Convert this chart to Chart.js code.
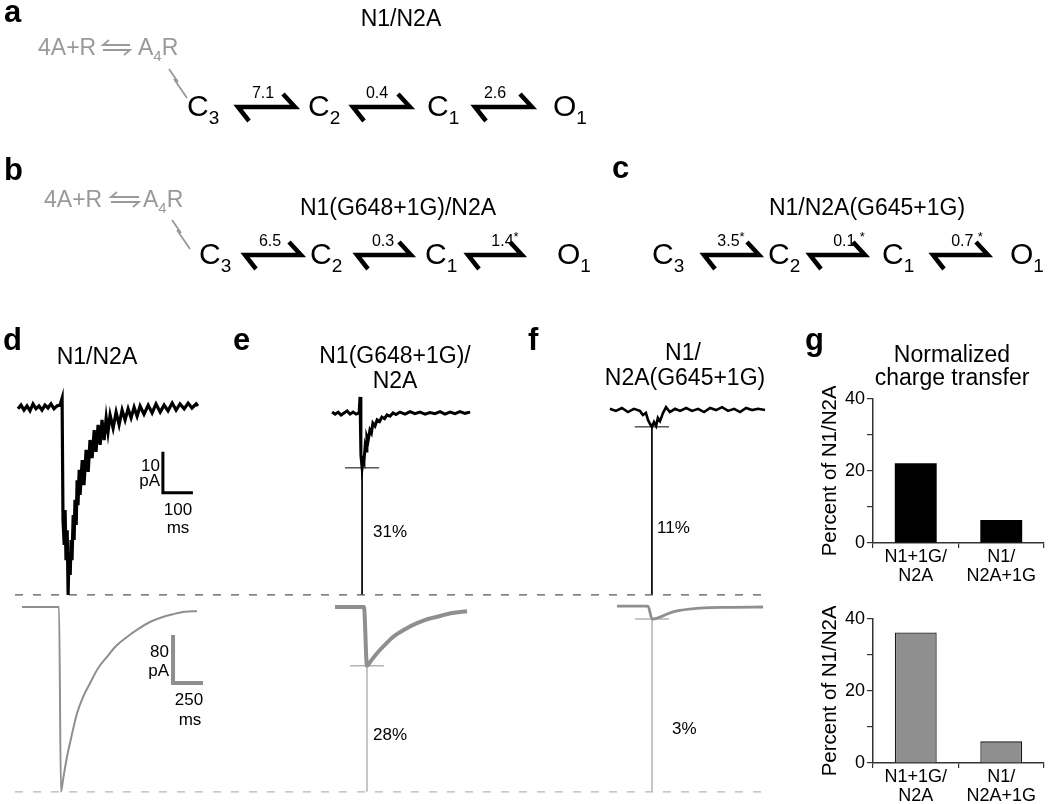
<!DOCTYPE html>
<html>
<head>
<meta charset="utf-8">
<script src="https://cdn.jsdelivr.net/npm/chart.js@4.4.1/dist/chart.umd.min.js"></script>
<style>
  body { margin: 0; background: #fff; }
  #page { position: relative; width: 1050px; height: 804px; overflow: hidden; }
  canvas, svg { position: absolute; }
</style>
</head>
<body>
<div id="page">
  <canvas id="recRow" width="780" height="215" style="left:0;top:385px"></canvas>
  <canvas id="simRow" width="780" height="207" style="left:0;top:597px"></canvas>
  <canvas id="barTop" width="235" height="210" style="left:815px;top:386px"></canvas>
  <canvas id="barBottom" width="235" height="210" style="left:815px;top:606px"></canvas>
  <svg id="overlay" width="1050" height="804" style="left:0;top:0" font-family="Liberation Sans, Arial, sans-serif"></svg>
</div>
<script>
// kinetic schemes (a, b, c): rate constants over each C3-C2, C2-C1, C1-O1 step
const states = [['C', '3'], ['C', '2'], ['C', '1'], ['O', '1']];
const ratesA = ['7.1', '0.4', '2.6'];
const ratesB = ['6.5', '0.3', '1.4*'];
const ratesC = ['3.5*', '0.1 *', '0.7 *'];

// d-f recorded currents: time (ms, from stimulus) and current (pA)
const dRecT = [-147, -137, -127, -117, -107, -97, -87, -77, -67, -57, -47, -37, -27, -17, -7,
  0, 3, 7, 10, 13, 17, 20, 23, 27, 30, 33, 37, 40, 43, 47, 50, 53, 57, 60,
  67, 73, 80, 87, 93, 100, 107, 113, 120, 127, 133, 140, 147, 153, 160,
  170, 180, 190, 200, 210, 220, 230, 240, 250, 260,
  273, 287, 300, 313, 327, 340, 353, 367, 380, 393, 407, 420, 433, 447, 453];
const dRecI = [-0.2, 0.7, -0.5, 0.5, -0.7, 1.0, -0.2, 0.5, -0.5, 0.7, 0, 1.0, -0.2, 0.5, 0.7,
  2.4, -27.3, -33.4, -24.9, -37.1, -29.8, -45.6, -35.9, -40.7, -32.2, -37.1, -26.1, -32.2, -22.4, -28.5, -17.6, -23.7, -15.1, -21.2,
  -12.7, -18.8, -10.2, -15.6, -7.8, -12.2, -5.4, -10.7, -4.1, -9.0, -2.9, -7.8, -2.4, -5.9, -1.7,
  -4.9, -1.0, -4.1, -0.5, -2.9, -0.2, -2.4, 0.2, -2.0, 0.5,
  -1.5, 0.7, -1.2, 1.0, -1.0, 0.7, -0.7, 1.2, -0.5, 1.0, -0.2, 1.2, 0, 1.0, 0.5];

const eRecT = [-93, -83, -73, -63, -53, -43, -33, -23, -13, -3,
  0, 3, 7, 10, 13, 17, 20, 23, 27, 33, 38, 43, 50, 57, 65, 73, 82, 90, 100, 110, 120,
  133, 150, 167, 183, 200, 217, 233, 250, 267, 283, 300, 317, 333, 350, 367];
const eRecI = [-1.0, -1.5, -1.0, -1.7, -1.2, -0.7, -1.5, -1.0, -1.5, -1.2,
  2.7, -11.5, -14.6, -12.7, -13.2, -9.5, -10.5, -7.1, -8.0, -5.4, -6.1, -3.7, -4.4, -2.9, -3.3, -2.2, -2.6, -1.7, -2.0, -1.2, -1.6,
  -1.0, -1.5, -0.9, -1.4, -1.0, -1.5, -1.1, -1.4, -0.9, -1.5, -1.0, -1.4, -0.9, -1.3, -1.0];

const fRecT = [-137, -117, -97, -77, -57, -37, -27, -17, -10, -3, 3, 10, 17, 23, 30, 40, 50, 63,
  80, 97, 117, 137, 157, 177, 197, 217, 237, 257, 277, 297, 317, 337, 357, 380];
const fRecI = [-0.2, -0.7, 0, -1.0, -0.2, -0.7, -1.7, -1.2, -2.9, -3.9, -4.6, -3.4, -4.4, -2.4, -3.2, -1.2, 0.2, -1.0,
  -0.2, -0.7, 0, -0.7, -0.2, -1.0, 0, -0.5, 0.2, -0.7, -0.2, -1.0, 0, -0.5, -0.2, -0.5];

// d-f simulated currents: time (ms) and current (pA)
const dSimT = [-317, -8, 8, 25, 58, 83, 142, 192, 250, 317, 392, 467, 558, 650, 750, 850, 942, 1042, 1142];
const dSimI = [0, 0, -308, -288, -250, -227, -177, -150, -127, -102, -83, -65, -50, -37, -25, -17, -12, -8, -7];
const eSimT = [-258, -17, 8, 33, 92, 158, 225, 325, 425, 517, 617, 717, 842];
const eSimI = [0, 0, -98, -92, -77, -63, -50, -37, -27, -20, -15, -10, -7];
const fSimT = [-275, -17, 17, 192, 417, 667, 942];
const fSimI = [1.5, 1.5, -20, -8, -2, -0.5, 0];

const recPercent = ['31%', '11%'];
const simPercent = ['28%', '3%'];

// g: normalized charge transfer, percent of N1/N2A
const barLabels = [['N1+1G/', 'N2A'], ['N1/', 'N2A+1G']];
const recCharge = [22.1, 6.4];
const simCharge = [36.2, 6.0];

Chart.defaults.font.family = 'Liberation Sans, Arial, sans-serif';
Chart.defaults.color = '#000';

// where each panel's stimulus sits on the shared time axis of a row (ms)
const recOffset = [207, 1200, 2170];
const simOffset = [500, 3050, 5417];

function pts(T, I, off) {
  return T.map((t, i) => ({ x: t + off, y: I[i] }));
}
function peak(T, I) {
  let k = 0;
  I.forEach((v, i) => { if (v < I[k]) k = i; });
  return { t: T[k], i: I[k] };
}
function line(data, color, width, extra) {
  return Object.assign({ data: data, borderColor: color, borderWidth: width, pointRadius: 0, fill: false, tension: 0 }, extra || {});
}
function traceOptions(xmax, ymin, ymax) {
  return {
    responsive: false, animation: false, devicePixelRatio: 1,
    layout: { padding: 0 },
    plugins: { legend: { display: false }, tooltip: { enabled: false } },
    scales: {
      x: { type: 'linear', display: false, min: 0, max: xmax },
      y: { display: false, min: ymin, max: ymax }
    }
  };
}

// recorded row (black)
const recPeakD = peak(dRecT, dRecI);
const recPeaks = [peak(eRecT, eRecI), peak(fRecT, fRecI)];
const recSets = [
  line(pts(dRecT, dRecI, recOffset[0]), '#000', 3.2),
  line(pts(eRecT, eRecI, recOffset[1]), '#000', 3),
  line(pts(fRecT, fRecI, recOffset[2]), '#000', 2.6),
  line([{ x: 50, y: recPeakD.i }, { x: 2550, y: recPeakD.i }], '#555', 1.2, { borderDash: [8, 10] })
];
recPeaks.forEach((p, k) => {
  const x = p.t + recOffset[k + 1];
  recSets.push(line([{ x: x, y: p.i }, { x: x, y: recPeakD.i }], '#000', 1));
  recSets.push(line([{ x: x - 57, y: p.i }, { x: x + 57, y: p.i }], '#000', 1));
});
// scale bar 10 pA / 100 ms
recSets.push(line([{ x: 543, y: -10.7 }, { x: 543, y: -20.7 }, { x: 643, y: -20.7 }], '#000', 3, { borderJoinStyle: 'miter' }));

new Chart(document.getElementById('recRow'), {
  type: 'line',
  data: { datasets: recSets },
  options: traceOptions(2600, -46.83, 5.61)
});

// simulated row (grey)
const simPeakD = peak(dSimT, dSimI);
const simPeaks = [peak(eSimT, eSimI), peak(fSimT, fSimI)];
const smooth = { cubicInterpolationMode: 'monotone' };
const simSets = [
  line(pts(dSimT, dSimI, simOffset[0]), '#8f8f8f', 2, smooth),
  line(pts(eSimT, eSimI, simOffset[1]), '#8f8f8f', 4, smooth),
  line(pts(fSimT, fSimI, simOffset[2]), '#8f8f8f', 2.8, smooth),
  line([{ x: 125, y: simPeakD.i }, { x: 6417, y: simPeakD.i }], '#b5b5b5', 1.2, { borderDash: [8, 10] })
];
simPeaks.forEach((p, k) => {
  const x = p.t + simOffset[k + 1];
  simSets.push(line([{ x: x, y: p.i }, { x: x, y: simPeakD.i }], '#b3b3b3', 1.5));
  simSets.push(line([{ x: x - 142, y: p.i }, { x: x + 142, y: p.i }], '#b3b3b3', 1.5));
});
// scale bar 80 pA / 250 ms
simSets.push(line([{ x: 1442, y: -46.7 }, { x: 1442, y: -126.7 }, { x: 1692, y: -126.7 }], '#8f8f8f', 4, { borderJoinStyle: 'miter' }));

new Chart(document.getElementById('simRow'), {
  type: 'line',
  data: { datasets: simSets },
  options: traceOptions(6500, -328.33, 16.67)
});

// g bar charts
function barOptions() {
  return {
    responsive: false, animation: false, devicePixelRatio: 1,
    layout: { padding: { top: 10, right: 6, left: 0, bottom: 0 } },
    plugins: { legend: { display: false }, tooltip: { enabled: false } },
    scales: {
      x: {
        grid: { offset: true, drawOnChartArea: false, tickLength: 5, color: '#333', lineWidth: 1.2 },
        border: { color: '#333', width: 1.5 },
        ticks: { font: { size: 18, lineHeight: 1.05 }, padding: 0, color: '#000', maxRotation: 0, autoSkip: false },
        afterFit: s => { s.height = 53; }
      },
      y: {
        min: 0, max: 40,
        grid: { drawOnChartArea: false, tickLength: 6, color: '#333', lineWidth: 1.2 },
        border: { color: '#333', width: 1.5 },
        ticks: { stepSize: 10, font: { size: 18 }, padding: 2, color: '#000', callback: v => (v % 20 === 0 ? v : '') },
        title: { display: true, text: 'Percent of N1/N2A', font: { size: 20.5 }, padding: { top: 3, bottom: 0 }, color: '#000' },
        afterFit: s => { s.width = 58; }
      }
    }
  };
}
new Chart(document.getElementById('barTop'), {
  type: 'bar',
  data: { labels: barLabels, datasets: [{ data: recCharge, backgroundColor: '#000', borderWidth: 0, barPercentage: 0.49, categoryPercentage: 1 }] },
  options: barOptions()
});
new Chart(document.getElementById('barBottom'), {
  type: 'bar',
  data: { labels: barLabels, datasets: [{ data: simCharge, backgroundColor: '#8f8f8f', borderColor: '#1a1a1a', borderWidth: 1.3, barPercentage: 0.49, categoryPercentage: 1 }] },
  options: barOptions()
});

// text and scheme overlay
function text(x, y, s, size, anchor, weight, color) {
  return '<text x="' + x + '" y="' + y + '" font-size="' + size + '" text-anchor="' + (anchor || 'start') +
    '" font-weight="' + (weight || 'normal') + '" fill="' + (color || '#000') + '">' + s + '</text>';
}
function schemeRow(row, rates) {
  let s = '';
  states.forEach((st, i) => {
    s += '<text x="' + row.states[i] + '" y="' + row.B + '" font-size="30">' + st[0] +
      '<tspan dy="8" font-size="19">' + st[1] + '</tspan></text>';
  });
  row.arrows.forEach((a, i) => {
    const y = row.B - 9, x0 = a[0], x1 = a[1];
    s += '<path d="M' + (x1 - 12) + ',' + (y - 13) + ' L' + x1 + ',' + y + ' L' + x0 + ',' + y + ' L' + (x0 + 11) + ',' + (y + 14) +
      '" fill="none" stroke="#000" stroke-width="4.5"/>';
    const label = rates[i].replace('*', '<tspan dy="-5" font-size="13">*</tspan>');
    s += text(row.rateX[i], row.B - 18, label, 16, 'middle');
  });
  if (row.gray) {
    const g = row.gray, gy = g.y;
    s += text(g.x, gy, '4A+R', 23, 'start', 'normal', '#999');
    s += '<path d="M' + (g.ax0 + 6) + ',' + (gy - 15) + ' L' + g.ax0 + ',' + (gy - 10) + ' L' + g.ax1 + ',' + (gy - 10) +
      ' M' + g.ax0 + ',' + (gy - 5) + ' L' + g.ax1 + ',' + (gy - 5) + ' L' + (g.ax1 - 6) + ',' + gy +
      '" fill="none" stroke="#999" stroke-width="1.8"/>';
    s += '<text x="' + g.a4r + '" y="' + gy + '" font-size="23" fill="#999">A<tspan dy="6" font-size="15">4</tspan><tspan dy="-6">R</tspan></text>';
    const cx = g.cx, cy = g.cy;
    s += '<path d="M' + cx + ',' + cy + ' L' + (cx + 9) + ',' + (cy + 13) + ' M' + (cx + 5) + ',' + (cy + 10) + ' L' + (cx + 18) + ',' + (cy + 29) +
      '" fill="none" stroke="#999" stroke-width="1.8"/>';
  }
  return s;
}

const rowA = { B: 116, states: [187, 308, 427, 553], arrows: [[238, 295], [353, 410], [475, 532]], rateX: [263, 377, 495],
  gray: { x: 38, y: 55, ax0: 103, ax1: 130, a4r: 138, cx: 169, cy: 69 } };
const rowB = { B: 264, states: [199, 310, 425, 557], arrows: [[245, 301], [357, 411], [468, 522]], rateX: [270, 383, 505],
  gray: { x: 44, y: 207, ax0: 111, ax1: 139, a4r: 143, cx: 172, cy: 220 } };
const rowC = { B: 264, states: [652, 768, 882, 1010], arrows: [[704, 759], [810, 865], [933, 988]], rateX: [731, 849, 967] };

let svg = '';
svg += text(4, 22, 'a', 31, 'start', 'bold');
svg += text(4, 180, 'b', 31, 'start', 'bold');
svg += text(612, 178, 'c', 31, 'start', 'bold');
svg += text(3, 350, 'd', 31, 'start', 'bold');
svg += text(233, 350, 'e', 31, 'start', 'bold');
svg += text(528, 350, 'f', 31, 'start', 'bold');
svg += text(805, 350, 'g', 31, 'start', 'bold');

svg += text(401, 26, 'N1/N2A', 23, 'middle');
svg += text(398, 215, 'N1(G648+1G)/N2A', 23, 'middle');
svg += text(867, 215, 'N1/N2A(G645+1G)', 23, 'middle');
svg += schemeRow(rowA, ratesA) + schemeRow(rowB, ratesB) + schemeRow(rowC, ratesC);

svg += text(97, 364, 'N1/N2A', 23, 'middle');
svg += text(395, 363, 'N1(G648+1G)/', 23, 'middle');
svg += text(395, 388, 'N2A', 23, 'middle');
svg += text(683, 360, 'N1/', 23, 'middle');
svg += text(685, 385, 'N2A(G645+1G)', 23, 'middle');
svg += text(952, 362, 'Normalized', 23, 'middle');
svg += text(952, 385, 'charge transfer', 23, 'middle');

svg += text(160, 471, '10', 17, 'end');
svg += text(160, 486, 'pA', 17, 'end');
svg += text(178, 515, '100', 17, 'middle');
svg += text(178, 533, 'ms', 17, 'middle');
svg += text(169, 657, '80', 17, 'end');
svg += text(169, 676, 'pA', 17, 'end');
svg += text(189, 705, '250', 17, 'middle');
svg += text(190, 725, 'ms', 17, 'middle');

svg += text(373, 537, recPercent[0], 17);
svg += text(657, 533, recPercent[1], 17);
svg += text(373, 740, simPercent[0], 17);
svg += text(672, 734, simPercent[1], 17);

document.getElementById('overlay').innerHTML = svg;
</script>
</body>
</html>
